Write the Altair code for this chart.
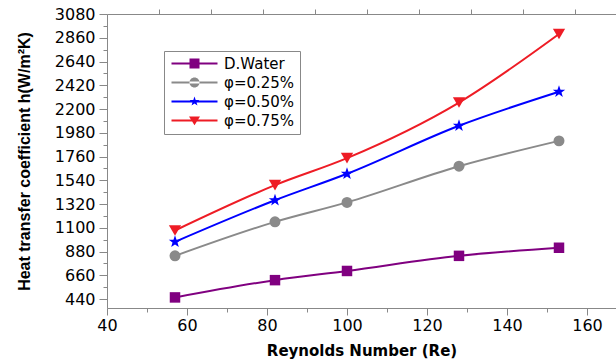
import altair as alt
import pandas as pd

# ---- data ----
reynolds = [57, 82, 100, 128, 153]
d_water = [455, 615, 700, 840, 915]
phi_025 = [840, 1155, 1335, 1670, 1905]
phi_050 = [970, 1355, 1600, 2045, 2360]
phi_075 = [1075, 1495, 1745, 2260, 2895]

series_names = ["D.Water", "φ=0.25%", "φ=0.50%", "φ=0.75%"]
series_values = [d_water, phi_025, phi_050, phi_075]
series_colors = ["#800080", "#8a8a8a", "#0000ff", "#ee1c25"]

y_ticks = list(range(440, 3081, 110))      # labelled every 220
x_ticks = list(range(40, 161, 10))         # labelled every 20
top_ticks = [53, 66, 79, 92, 105, 118, 131, 144, 157]

STAR = ("M0,-1L0.235,-0.324L0.951,-0.309L0.380,0.124L0.588,0.809L0,0.4"
        "L-0.588,0.809L-0.380,0.124L-0.951,-0.309L-0.235,-0.324Z")
shapes = ["square", "circle", STAR, "triangle-down"]
sizes = [110, 120, 170, 150]

# legend glyph: thin filled bar (the line) plus the marker
BAR = "M-4.6,-0.18H4.6V0.18H-4.6Z"
legend_paths = [
    BAR + "M-1,-1H1V1H-1Z",
    BAR + "M-1,0A1,1,0,1,0,1,0A1,1,0,1,0,-1,0Z",
    BAR + STAR,
    BAR + "M-1.1,-0.8L1.1,-0.8L0,0.95Z",
]

rows = []
for name, vals in zip(series_names, series_values):
    for x, y in zip(reynolds, vals):
        rows.append({"Re": x, "h": y, "series": name})
df = pd.DataFrame(rows)

LABEL_FONT = "DejaVu Sans"
LABEL_SIZE = 16

xscale = alt.Scale(domain=[40, 167.25], nice=False, zero=False)
yscale = alt.Scale(domain=[357, 3080], nice=False, zero=False)

leg = alt.Legend(
    title=None, orient="none", legendX=57, legendY=37,
    padding=5, strokeColor="#888888", fillColor="white",
    symbolSize=100, symbolOffset=18, labelOffset=22, symbolStrokeWidth=0,
    labelFont=LABEL_FONT, labelFontSize=15, labelColor="black",
    rowPadding=3, symbolOpacity=1,
)


def cscale():
    return alt.Scale(domain=series_names, range=series_colors)


base = alt.Chart(df)

x_axis = alt.Axis(
    orient="bottom", values=x_ticks, grid=False, labelFlush=False,
    tickSize={"condition": {"test": "datum.value % 20 === 0", "value": 7},
              "value": 4},
    labelExpr="datum.value % 20 === 0 ? datum.label : ''",
    title="Reynolds Number (Re)", labelPadding=2,
    labelFont=LABEL_FONT, labelFontSize=LABEL_SIZE,
    titleFont="DejaVu Sans", titleFontSize=15,
    titleFontWeight="bold", titlePadding=10,
)
y_axis = alt.Axis(
    orient="left", values=y_ticks, grid=False, format="d", labelFlush=False,
    tickSize={"condition": {"test": "(datum.value - 440) % 220 === 0",
                            "value": 8}, "value": 4},
    labelExpr="(datum.value - 440) % 220 === 0 ? datum.label : ''",
    title="Heat transfer coefficient h(W/m²K)",
    labelPadding=4, labelFont=LABEL_FONT, labelFontSize=LABEL_SIZE,
    titleFont="Liberation Sans", titleFontSize=16, titleFontWeight="bold",
    titlePadding=22,
)

lines = base.mark_line(strokeWidth=2, interpolate="monotone").encode(
    x=alt.X("Re:Q", scale=xscale, axis=x_axis),
    y=alt.Y("h:Q", scale=yscale, axis=y_axis),
    stroke=alt.Stroke("series:N", sort=series_names, scale=cscale(),
                      legend=leg),
    detail="series:N",
)

point_layers = []
for name, shp, sz in zip(series_names, shapes, sizes):
    point_layers.append(
        base.transform_filter(alt.datum.series == name)
        .mark_point(filled=True, opacity=1, size=sz, shape=shp)
        .encode(
            x=alt.X("Re:Q", scale=xscale, axis=None),
            y=alt.Y("h:Q", scale=yscale, axis=None),
            fill=alt.Fill("series:N", sort=series_names, scale=cscale(),
                          legend=leg),
        )
    )

top = base.mark_point(opacity=0).encode(
    x=alt.X("Re:Q", scale=xscale,
            axis=alt.Axis(orient="top", values=top_ticks, tickSize=5,
                          grid=False, labels=False, title=None)),
    y=alt.Y("h:Q", scale=yscale, axis=None),
)

legend_df = pd.DataFrame({"series": series_names, "Re": [0] * 4, "h": [0] * 4})
legend_layer = alt.Chart(legend_df).mark_point(
    filled=True, size=100, opacity=1, clip=True
).encode(
    x=alt.X("Re:Q", scale=xscale, axis=None),
    y=alt.Y("h:Q", scale=yscale, axis=None),
    color=alt.Color("series:N", sort=series_names, scale=cscale(), legend=leg),
    shape=alt.Shape("series:N", sort=series_names,
                    scale=alt.Scale(domain=series_names, range=legend_paths),
                    legend=leg),
)

chart = alt.layer(lines, *point_layers, top, legend_layer).resolve_axis(
    x="independent", y="independent"
).properties(
    width=509, height=294,
    autosize=alt.AutoSizeParams(type="none"),
    padding={"left": 107, "top": 14, "right": 0, "bottom": 52},
).configure_view(stroke=None).configure_axis(
    grid=False, domainColor="black", domainWidth=1.5, tickColor="black",
    tickWidth=1.5, labelColor="black", titleColor="black",
).configure(background="white")

chart.save("out.html", embed_options={"renderer": "svg", "actions": False})
